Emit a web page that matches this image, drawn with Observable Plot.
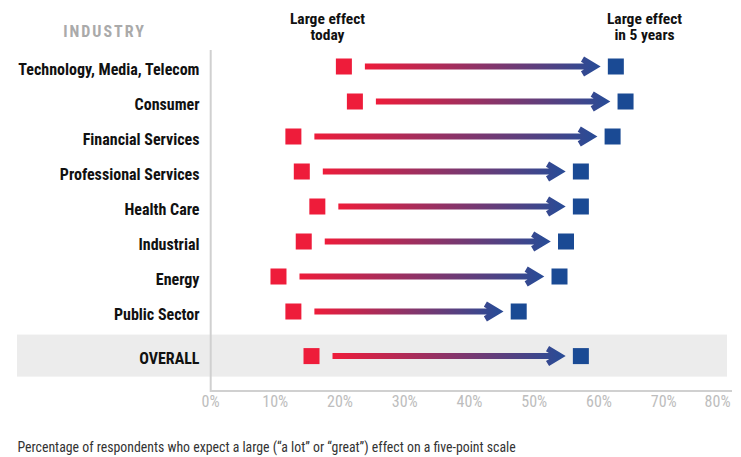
<!DOCTYPE html>
<html><head><meta charset="utf-8">
<script src="https://cdn.jsdelivr.net/npm/d3@7"></script>
<script src="https://cdn.jsdelivr.net/npm/@observablehq/plot@0.6"></script>
<style>body{margin:0;background:#fff}</style>
</head><body><div id="chart"></div>
<script>
const industries = ["Technology, Media, Telecom","Consumer","Financial Services","Professional Services","Health Care","Industrial","Energy","Public Sector"];
const todayValues = [20.6, 22.3, 12.8, 14.1, 16.5, 14.4, 10.5, 12.8];
const fiveYearValues = [62.6, 64.1, 62.1, 57.2, 57.2, 54.9, 53.9, 47.6];
const overallLabel = "OVERALL";
const overallToday = 15.6;
const overallFiveYear = 57.2;
const xTicks = [0, 10, 20, 30, 40, 50, 60, 70, 80];
const headerToday = "Large effect\ntoday";
const headerFuture = "Large effect\nin 5 years";
const industryTitle = "INDUSTRY";
const caption = "Percentage of respondents who expect a large (\u201ca lot\u201d or \u201cgreat\u201d) effect on a five-point scale";

const rows = industries.map((name, i) => ({name, today: todayValues[i], future: fiveYearValues[i]}));
const overallRows = [{name: overallLabel, today: overallToday, future: overallFiveYear}];

const RED = "#ee1c3a", BLUE = "#1a4a94";
const FONT = "'Roboto Condensed', Roboto, sans-serif";
const overallShift = 9.6;

function gradientDefs() {
  const defs = d3.create("svg:defs");
  const lg = defs.append("linearGradient").attr("id", "arrowGrad")
    .attr("x1", 0).attr("x2", 1).attr("y1", 0).attr("y2", 0);
  lg.append("stop").attr("offset", "0%").attr("stop-color", "#ee1c3a");
  lg.append("stop").attr("offset", "100%").attr("stop-color", "#2b4b95");
  return defs.node();
}

function backdrop(index, scales, values, dims) {
  const g = d3.create("svg:g");
  const yo = scales.y(overallLabel) + overallShift;
  const right = scales.x(80) - 1;
  g.append("rect").attr("x", 17).attr("y", yo - 21)
    .attr("width", right - 17).attr("height", 42).attr("fill", "#ececec");
  const x0 = scales.x(0) + 0.7;
  const yb = dims.height - dims.marginBottom;
  g.append("path").attr("d", `M${x0},${dims.marginTop}V${yb}H${dims.width - 9}`)
    .attr("fill", "none").attr("stroke", "#d0d0d0").attr("stroke-width", 2);
  return g.node();
}

const arrowOpts = {
  x1: "today", x2: "future", y1: "name", y2: "name",
  stroke: "url(#arrowGrad)", strokeWidth: 6,
  insetStart: 21, insetEnd: 21, headLength: 3.6, headAngle: 62,
  strokeLinecap: "butt", strokeLinejoin: "miter", strokeMiterlimit: 4
};

const chart = Plot.plot({
  width: 741, height: 457,
  marginLeft: 210, marginRight: 13, marginTop: 50, marginBottom: 66,
  insetTop: 14.3, insetBottom: 43.3,
  style: {fontFamily: FONT, background: "#fff"},
  x: {domain: [0, 80], axis: null},
  y: {type: "point", domain: [...industries, overallLabel], padding: 0, axis: null},
  marks: [
    gradientDefs,
    backdrop,
    Plot.arrow(rows, arrowOpts),
    Plot.arrow(overallRows, {...arrowOpts, dy: overallShift}),
    Plot.dot(rows, {x: "today", y: "name", symbol: "square", r: 9.03, fill: RED}),
    Plot.dot(rows, {x: "future", y: "name", symbol: "square", r: 9.03, fill: BLUE}),
    Plot.dot(overallRows, {x: "today", y: "name", symbol: "square", r: 9.03, fill: RED, dy: overallShift}),
    Plot.dot(overallRows, {x: "future", y: "name", symbol: "square", r: 9.03, fill: BLUE, dy: overallShift}),
    Plot.text(industries, {y: d => d, text: d => d, frameAnchor: "left", textAnchor: "end", dx: -11, dy: 3,
      fontWeight: "bold", fontSize: 16, fill: "#111"}),
    Plot.text([overallLabel], {y: d => d, text: d => d, frameAnchor: "left", textAnchor: "end", dx: -11, dy: 3 + overallShift,
      fontWeight: "bold", fontSize: 16, fill: "#111"}),
    Plot.text(xTicks.slice(0, -1), {x: d => d, text: d => d + "%", frameAnchor: "bottom", dy: 15.7,
      fontSize: 16, fill: "#bdbdbd"}),
    Plot.text(xTicks.slice(-1), {x: d => d, text: d => d + "%", frameAnchor: "bottom", dy: 15.7, dx: 2,
      textAnchor: "end", fontSize: 16, fill: "#bdbdbd"}),
    Plot.text([headerToday], {text: d => d, frameAnchor: "top", dx: -142, dy: -38.6, lineAnchor: "top",
      fontWeight: "bold", fontSize: 15.5, lineHeight: 1.06, fill: "#111"}),
    Plot.text([headerFuture], {text: d => d, frameAnchor: "top", dx: 175, dy: -38.6, lineAnchor: "top",
      fontWeight: "bold", fontSize: 15.5, lineHeight: 1.06, fill: "#111"}),
    Plot.text([industryTitle], {text: d => d, frameAnchor: "top-left", dx: -106, dy: -25, lineAnchor: "top",
      textAnchor: "middle", fontWeight: "bold", fontSize: 16, fill: "#aaaaaa"}),
    Plot.text([caption], {text: d => d, frameAnchor: "bottom-left", dx: -193, dy: 60, textAnchor: "start",
      fontSize: 13.8, fill: "#333"})
  ]
});

d3.select(chart).selectAll("text").filter(function() { return this.textContent === industryTitle; })
  .attr("letter-spacing", "2px");

document.getElementById("chart").appendChild(chart);
</script>
</body></html>
